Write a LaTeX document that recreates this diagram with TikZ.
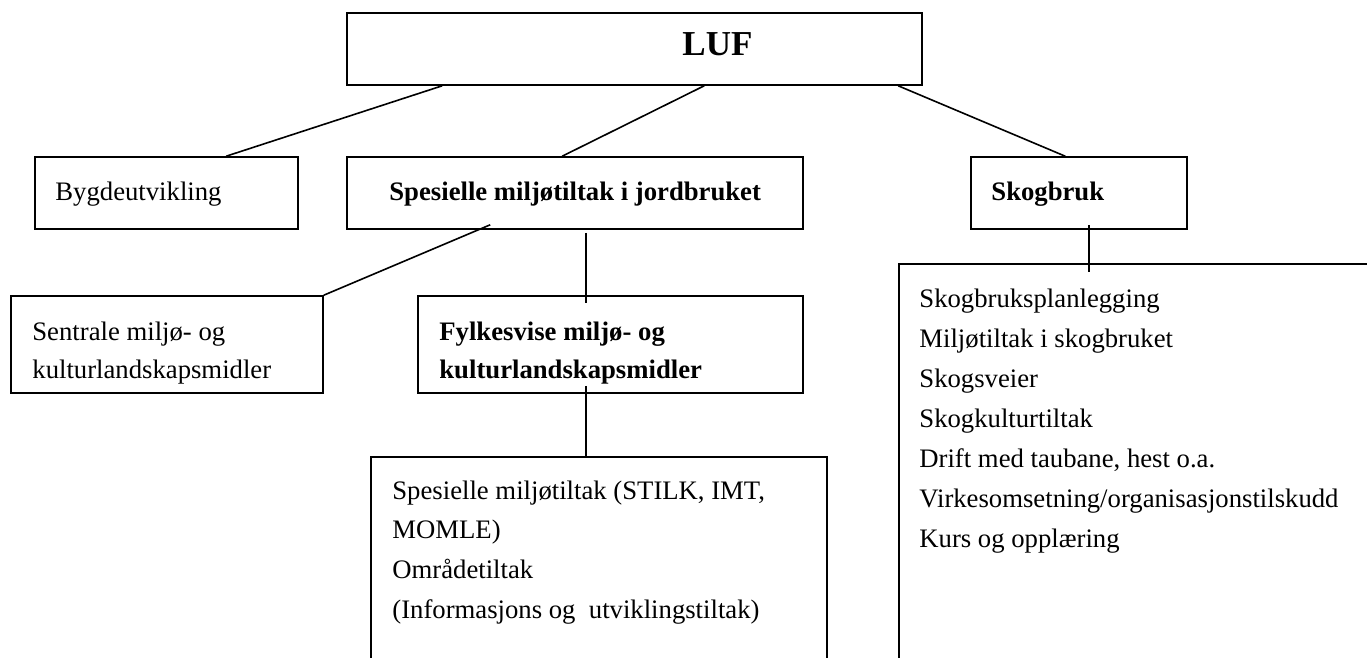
\documentclass[tikz,border=0pt]{standalone}
\usepackage{fontspec}
\setmainfont{Liberation Serif}
\usetikzlibrary{fit,calc}
\begin{document}
\begin{tikzpicture}[x=0.5pt,y=-0.5pt,
  box/.style={draw, line width=0.8pt, inner sep=0pt},
  conn/.style={line width=0.8pt},
  txt/.style={anchor=base west, inner sep=0pt, font=\fontsize{13.35}{16}\selectfont},
  btxt/.style={anchor=base west, inner sep=0pt, font=\fontsize{13.35}{16}\selectfont\bfseries}]
\useasboundingbox (0,0) rectangle (1367,658);
\begin{scope}
\clip (0,0) rectangle (1367,658);
% boxes
\node[box, fit={(347,13) (922,85)}] (luf) {};
\node[box, fit={(35,157) (298,229)}] (byg) {};
\node[box, fit={(347,157) (803,229)}] (spe) {};
\node[box, fit={(971,157) (1187,229)}] (sko) {};
\node[box, fit={(11,296) (323,393)}] (sen) {};
\node[box, fit={(418,296) (803,393)}] (fyl) {};
\node[box, fit={(371,457) (827,720)}] (omr) {};
\node[box, fit={(899,264) (1420,720)}] (lst) {};
% texts
\node[anchor=base west, inner sep=0pt, font=\fontsize{17.5}{20}\selectfont\bfseries] (luft) at (682,56) {LUF};
\node[txt] (bygt) at (55,200) {Bygdeutvikling};
\node[btxt] (spet) at (389,200) {Spesielle miljøtiltak i jordbruket};
\node[btxt] (skot) at (991,200) {Skogbruk};
\node[txt] (sen1) at (32,340) {Sentrale miljø- og};
\node[txt] (sen2) at (32,378) {kulturlandskapsmidler};
\node[btxt] (fyl1) at (439,340) {Fylkesvise miljø- og};
\node[btxt] (fyl2) at (439,378) {kulturlandskapsmidler};
\node[txt] (omr1) at (392,499) {Spesielle miljøtiltak (STILK, IMT,};
\node[txt] (omr2) at (392,538) {MOMLE)};
\node[txt] (omr3) at (392,578) {Områdetiltak};
\node[txt] (omr4) at (392,618) {(Informasjons og\ \ utviklingstiltak)};
\node[txt] (l1) at (919,307) {Skogbruksplanlegging};
\node[txt] (l2) at (919,347) {Miljøtiltak i skogbruket};
\node[txt] (l3) at (919,387) {Skogsveier};
\node[txt] (l4) at (919,427) {Skogkulturtiltak};
\node[txt] (l5) at (919,467) {Drift med taubane, hest o.a.};
\node[txt] (l6) at (919,507) {Virkesomsetning/organisasjonstilskudd};
\node[txt] (l7) at (919,547) {Kurs og opplæring};
% connector end points
\coordinate (c1a) at ($(luf.south west)+(96,0)$);
\coordinate (c1b) at ($(byg.north west)+(192,0)$);
\coordinate (c2a) at ($(luf.south west)+(358,0)$);
\coordinate (c2b) at ($(spe.north west)+(216,0)$);
\coordinate (c3a) at ($(luf.south west)+(552,0)$);
\coordinate (c3b) at ($(sko.north west)+(95,0)$);
\coordinate (c4a) at ($(spe.south west)+(144,-5)$);
\coordinate (c5a) at ($(spe.south west)+(240,3)$);
\coordinate (c5b) at ($(fyl.north west)+(169,8)$);
\coordinate (c6a) at ($(fyl.south west)+(169,-8)$);
\coordinate (c6b) at ($(omr.north west)+(216,0)$);
\coordinate (c7a) at ($(sko.south west)+(119,-5)$);
\coordinate (c7b) at ($(lst.north west)+(191,9)$);
% connectors
\draw[conn] (c1a) -- (c1b);
\draw[conn] (c2a) -- (c2b);
\draw[conn] (c3a) -- (c3b);
\draw[conn] (c4a) -- (sen.north east);
\draw[conn] (c5a) -- (c5b);
\draw[conn] (c6a) -- (c6b);
\draw[conn] (c7a) -- (c7b);
\end{scope}
\end{tikzpicture}
\end{document}
